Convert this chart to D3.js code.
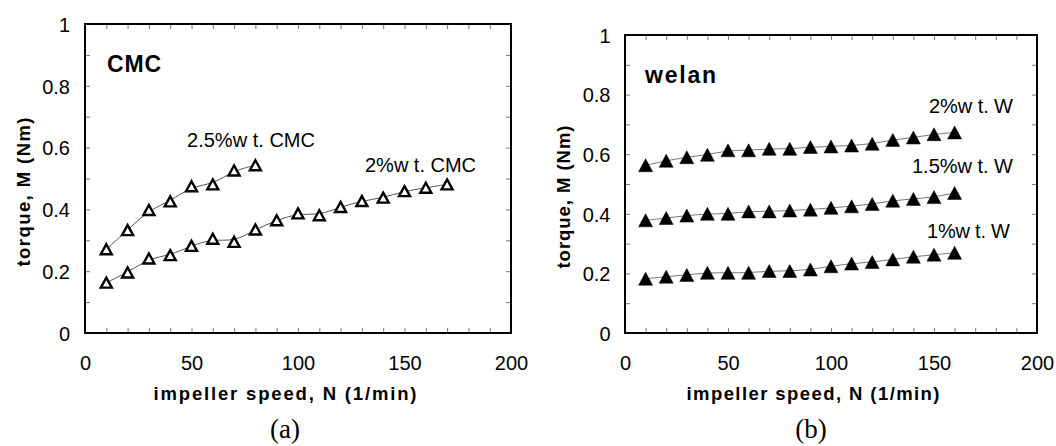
<!DOCTYPE html>
<html><head><meta charset="utf-8">
<script src="https://cdn.jsdelivr.net/npm/d3@7"></script>
<style>body{margin:0;background:#fff}svg{display:block}</style>
</head><body>
<svg id="c" width="1056" height="446"></svg>
<script>
// ---- data ----
const xTickValues = [0, 50, 100, 150, 200];
const xTickLabels = ["0", "50", "100", "150", "200"];
const yTickValues = [0, 0.2, 0.4, 0.6, 0.8, 1];
const yTickLabels = ["0", "0.2", "0.4", "0.6", "0.8", "1"];

const speedCMC25 = [10, 20, 30, 40, 50, 60, 70, 80];
const torqueCMC25 = [0.271, 0.333, 0.398, 0.426, 0.475, 0.481, 0.526, 0.543];

const speedCMC2 = [10, 20, 30, 40, 50, 60, 70, 80, 90, 100, 110, 120, 130, 140, 150, 160, 170];
const torqueCMC2 = [0.163, 0.196, 0.241, 0.252, 0.282, 0.305, 0.295, 0.335, 0.365, 0.387, 0.381, 0.408, 0.427, 0.438, 0.459, 0.470, 0.481];

const speedW = [10, 20, 30, 40, 50, 60, 70, 80, 90, 100, 110, 120, 130, 140, 150, 160];
const torqueW2  = [0.563, 0.578, 0.590, 0.598, 0.613, 0.613, 0.618, 0.618, 0.624, 0.626, 0.629, 0.635, 0.648, 0.656, 0.667, 0.673];
const torqueW15 = [0.378, 0.386, 0.394, 0.400, 0.400, 0.408, 0.408, 0.411, 0.414, 0.420, 0.425, 0.433, 0.444, 0.450, 0.456, 0.470];
const torqueW1  = [0.182, 0.189, 0.195, 0.202, 0.202, 0.202, 0.208, 0.208, 0.213, 0.224, 0.233, 0.238, 0.247, 0.256, 0.263, 0.269];

const panelTitles = ["CMC", "welan"];
const panelCaptions = ["(a)", "(b)"];
const seriesNamesA = ["2.5%w t. CMC", "2%w t. CMC"];
const seriesNamesB = ["2%w t. W", "1.5%w t. W", "1%w t. W"];
const xTitle = "impeller speed, N (1/min)";
const yTitle = "torque, M (Nm)";

// ---- drawing ----
const SANS = "'Liberation Sans', Arial, Helvetica, sans-serif";
const SERIF = "'Liberation Serif', 'Times New Roman', serif";
const svg = d3.select("#c");
svg.append("rect").attr("width", 1056).attr("height", 446).attr("fill", "#fff");

function triPath(w, h) {
  return `M0,${-h/2}L${w/2},${h/2}L${-w/2},${h/2}Z`;
}

function drawPanel(p) {
  const x = d3.scaleLinear().domain([0, 200]).range([p.left, p.right]);
  const y = d3.scaleLinear().domain([0, 1]).range([p.bottom, p.top]);
  const g = svg.append("g");

  // inner minor ticks on all four sides
  const minorX = d3.range(10, 200, 10);
  const minorY = d3.range(0.1, 1.0, 0.1);
  const tickStyle = s => s.call(a => a.select(".domain").remove())
    .call(a => a.selectAll("line").attr("stroke", "#777").attr("stroke-width", 1));
  g.append("g").attr("transform", `translate(0,${p.bottom})`)
    .call(d3.axisBottom(x).tickValues(minorX).tickSize(-5).tickFormat("")).call(tickStyle);
  g.append("g").attr("transform", `translate(0,${p.top})`)
    .call(d3.axisTop(x).tickValues(minorX).tickSize(-5).tickFormat("")).call(tickStyle);
  g.append("g").attr("transform", `translate(${p.left},0)`)
    .call(d3.axisLeft(y).tickValues(minorY).tickSize(-5).tickFormat("")).call(tickStyle);
  g.append("g").attr("transform", `translate(${p.right},0)`)
    .call(d3.axisRight(y).tickValues(minorY).tickSize(-5).tickFormat("")).call(tickStyle);

  // frame
  g.append("rect").attr("x", p.left).attr("y", p.top)
    .attr("width", p.right - p.left).attr("height", p.bottom - p.top)
    .attr("fill", "none").attr("stroke", "#000").attr("stroke-width", 2);

  // tick labels
  const xl = g.append("g").attr("transform", `translate(0,${p.bottom})`)
    .call(d3.axisBottom(x).tickValues(xTickValues).tickSize(0)
      .tickFormat((d, i) => xTickLabels[i]));
  xl.select(".domain").remove();
  xl.selectAll("text").attr("y", 37).attr("dy", 0)
    .attr("font-family", SANS).attr("font-size", 20).attr("fill", "#000");

  const yl = g.append("g").attr("transform", `translate(${p.left},0)`)
    .call(d3.axisLeft(y).tickValues(yTickValues).tickSize(0)
      .tickFormat((d, i) => yTickLabels[i]));
  yl.select(".domain").remove();
  yl.selectAll("text").attr("x", -p.ylabOff).attr("dy", "0.36em")
    .attr("font-family", SANS).attr("font-size", 20).attr("fill", "#000");

  // axis titles
  g.append("text").attr("x", p.xTitleX).attr("y", 400)
    .attr("text-anchor", "middle").attr("font-family", SANS).attr("font-weight", "bold")
    .attr("font-size", 18.5).attr("textLength", p.xTitleLen).attr("lengthAdjust", "spacing")
    .text(xTitle);
  g.append("text")
    .attr("transform", `translate(${p.yTitleX},${p.yTitleY}) rotate(-90)`)
    .attr("text-anchor", "middle").attr("font-family", SANS).attr("font-weight", "bold")
    .attr("font-size", 18.5).attr("textLength", p.yTitleLen).attr("lengthAdjust", "spacing")
    .text(yTitle);

  // caption
  g.append("text").attr("x", p.capX).attr("y", 438).attr("text-anchor", "middle")
    .attr("font-family", SERIF).attr("font-size", 27).text(p.caption);

  // panel title
  g.append("text").attr("x", p.titleX).attr("y", p.titleY)
    .attr("font-family", SANS).attr("font-weight", "bold").attr("font-size", 23)
    .attr("textLength", p.titleLen).attr("lengthAdjust", "spacing")
    .text(p.title);

  // series
  const line = d3.line().x(d => x(d[0])).y(d => y(d[1])).curve(d3.curveBasis);
  p.series.forEach(s => {
    const pts = s.xs.map((v, i) => [v, s.ys[i]]);
    g.append("path").datum(pts).attr("d", line)
      .attr("fill", "none").attr("stroke", p.lineColor).attr("stroke-width", 1);
    g.append("g").selectAll("path").data(pts).join("path")
      .attr("transform", d => `translate(${x(d[0])},${y(d[1])})`)
      .attr("d", triPath(p.triW, p.triH))
      .attr("fill", p.filled ? "#000" : "#fff")
      .attr("stroke", "#000").attr("stroke-width", p.filled ? 0.5 : 2.4)
      .attr("stroke-linejoin", "miter");
    g.append("text").attr("x", s.lx).attr("y", s.ly)
      .attr("font-family", SANS).attr("font-size", 20)
      .attr("textLength", s.llen).attr("lengthAdjust", "spacing")
      .text(s.name);
  });
}

drawPanel({
  left: 85, right: 511, top: 24, bottom: 333, ylabOff: 15,
  xTitleX: 285, xTitleLen: 263, yTitleX: 30, yTitleY: 192, yTitleLen: 149,
  capX: 285, caption: panelCaptions[0],
  title: panelTitles[0], titleX: 107, titleY: 72, titleLen: 54,
  lineColor: "#555", filled: false, triW: 11, triH: 10,
  series: [
    { xs: speedCMC25, ys: torqueCMC25, name: seriesNamesA[0], lx: 187, ly: 147, llen: 128 },
    { xs: speedCMC2, ys: torqueCMC2, name: seriesNamesA[1], lx: 365, ly: 172, llen: 111 }
  ]
});

drawPanel({
  left: 625, right: 1037, top: 35, bottom: 333, ylabOff: 14.5,
  xTitleX: 813, xTitleLen: 253, yTitleX: 570, yTitleY: 197, yTitleLen: 143,
  capX: 811, caption: panelCaptions[1],
  title: panelTitles[1], titleX: 645, titleY: 83, titleLen: 71,
  lineColor: "#777", filled: true, triW: 14, triH: 13,
  series: [
    { xs: speedW, ys: torqueW2, name: seriesNamesB[0], lx: 929, ly: 113, llen: 84 },
    { xs: speedW, ys: torqueW15, name: seriesNamesB[1], lx: 912, ly: 173, llen: 101 },
    { xs: speedW, ys: torqueW1, name: seriesNamesB[2], lx: 927, ly: 238, llen: 83 }
  ]
});
</script>
</body></html>
